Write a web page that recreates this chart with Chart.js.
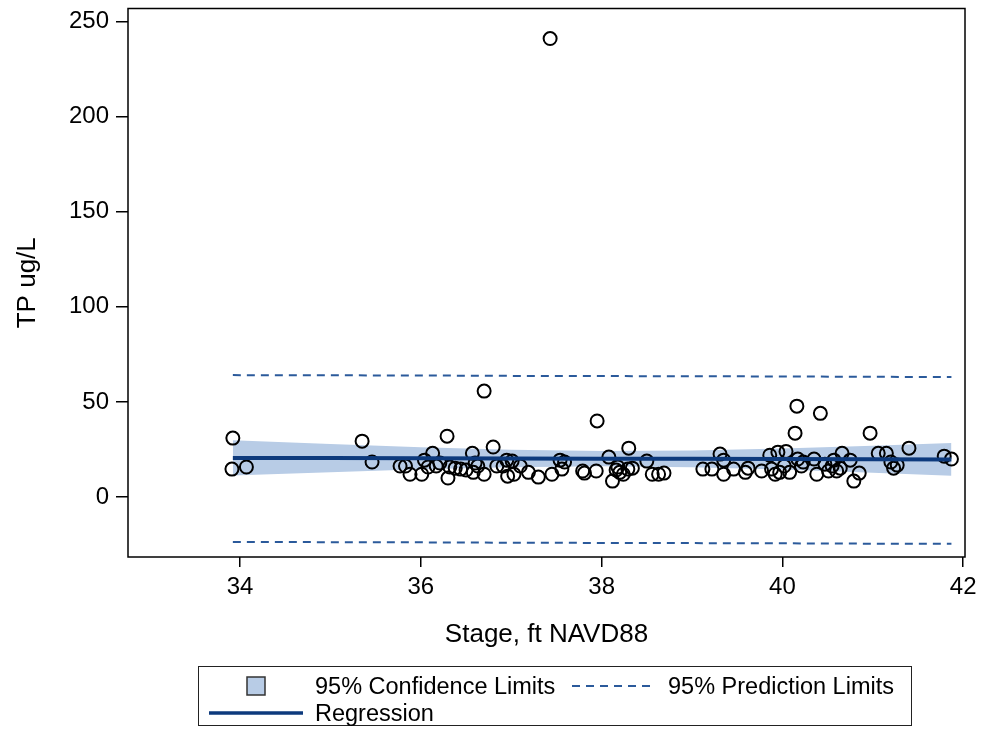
<!DOCTYPE html>
<html><head><meta charset="utf-8">
<script src="https://cdn.jsdelivr.net/npm/chart.js@4/dist/chart.umd.min.js"></script>
<style>
html,body{margin:0;padding:0;background:#fff;}
#wrap{position:relative;width:985px;height:730px;}
canvas{position:absolute;left:0;top:0;}
#legend{position:absolute;left:198px;top:666px;width:712px;height:58px;border:1.5px solid #222;font-family:"Liberation Sans",Arial,sans-serif;font-size:23.5px;color:#000;}
.item{position:absolute;white-space:nowrap;line-height:26px;}
svg{position:absolute;overflow:visible;}
</style></head><body>
<div id="wrap"><canvas id="c" width="985" height="730"></canvas>
<div id="legend">
  <svg style="left:0;top:0" width="712" height="58">
    <rect x="48" y="10" width="18" height="18" fill="#b8cce6" stroke="#333" stroke-width="1.5"/>
    <line x1="373" y1="19" x2="454" y2="19" stroke="#2b5a9b" stroke-width="2" stroke-dasharray="8,6"/>
    <line x1="10" y1="46" x2="104" y2="46" stroke="#0d3a7d" stroke-width="3.5"/>
  </svg>
  <div class="item" style="left:116px;top:6px">95% Confidence Limits</div>
  <div class="item" style="left:469px;top:6px">95% Prediction Limits</div>
  <div class="item" style="left:116px;top:33px">Regression</div>
</div></div>
<script>
// Observations: stage (ft NAVD88) and TP (ug/L)
const stage = [33.92,33.91,34.07,35.35,35.46,35.77,35.83,35.88,36.01,36.04,36.08,36.13,36.17,36.21,36.29,36.30,36.32,36.38,36.44,36.50,36.57,36.58,36.60,36.63,36.70,36.70,36.80,36.84,36.91,36.95,36.96,37.01,37.03,37.10,37.19,37.30,37.43,37.45,37.54,37.56,37.59,37.79,37.81,37.94,37.95,38.08,38.12,38.16,38.18,38.20,38.24,38.29,38.30,38.34,38.50,38.56,38.63,38.69,39.12,39.22,39.31,39.35,39.35,39.46,39.59,39.62,39.77,39.86,39.88,39.92,39.95,39.97,40.02,40.04,40.08,40.14,40.16,40.17,40.21,40.23,40.35,40.38,40.42,40.47,40.51,40.55,40.57,40.60,40.64,40.66,40.75,40.79,40.85,40.97,41.06,41.15,41.20,41.23,41.27,41.40,41.79,41.87];
const tp = [31,14.7,15.8,29.4,18.4,16.3,16.3,12,12,19.4,15.8,23,16.3,17.9,32,10,15.8,15.2,14.7,14.2,23,13,17.9,16.3,12,55.7,26.3,16.3,16.3,19.4,11,18.9,12,16.3,13,10.5,241,12,19.4,14.7,18.4,13.7,12.6,13.7,40,21,8.4,14.2,15.8,13,12,14.7,25.7,15.2,18.9,12,12,12.6,14.7,14.7,22.6,19.4,12,14.7,13,15.2,13.7,22,14.7,12,23.6,13,16.3,24,13,33.6,47.8,20,16.3,18.4,20,12,44,17.3,13.7,16.3,19.4,13.7,15.2,23,19.4,8.4,12.6,33.6,23,23,18.4,15.2,16.8,25.7,21.5,20];

// Fit curves
const fitX    = [33.92, 35, 36, 37, 38, 39, 40, 41, 41.87];
const fitY    = [20.6, 20.5, 20.4, 20.3, 20.2, 20.1, 20.0, 19.9, 19.8];
const clUpper = [29.9, 27.9, 26.2, 24.9, 24.2, 24.5, 25.5, 27.0, 28.4];
const clLower = [11.3, 13.1, 14.6, 15.7, 16.2, 15.7, 14.5, 12.8, 11.2];
const plUpper = [64.1, 64.0, 63.9, 63.7, 63.6, 63.5, 63.4, 63.2, 63.1];
const plLower = [-23.6, -23.7, -23.8, -24.0, -24.1, -24.2, -24.3, -24.5, -24.6];

const xTicks = [34, 36, 38, 40, 42];
const yTicks = [0, 50, 100, 150, 200, 250];

const pts = (xs, ys) => xs.map((x, i) => ({x: x, y: ys[i]}));
const FONT = '"Liberation Sans", Arial, sans-serif';

const frame = {
  id: 'frame',
  afterDraw(chart) {
    const a = chart.chartArea, ctx = chart.ctx;
    ctx.save();
    ctx.strokeStyle = '#000';
    ctx.lineWidth = 1.5;
    ctx.strokeRect(a.left, a.top, a.right - a.left, a.bottom - a.top);
    ctx.restore();
  }
};

new Chart(document.getElementById('c'), {
  type: 'scatter',
  data: {
    datasets: [
      {label: 'CL lower', type: 'line', data: pts(fitX, clLower), borderWidth: 0, pointRadius: 0, fill: false, order: 4, borderColor: 'rgba(0,0,0,0)'},
      {label: '95% Confidence Limits', type: 'line', data: pts(fitX, clUpper), borderWidth: 0, pointRadius: 0, fill: '-1', backgroundColor: '#b8cce6', borderColor: 'rgba(0,0,0,0)', order: 3},
      {label: '95% Prediction Limits', type: 'line', data: pts(fitX, plUpper), borderColor: '#2b5a9b', borderWidth: 2, borderDash: [8, 6], pointRadius: 0, fill: false, order: 2},
      {label: 'PL lower', type: 'line', data: pts(fitX, plLower), borderColor: '#2b5a9b', borderWidth: 2, borderDash: [8, 6], pointRadius: 0, fill: false, order: 2},
      {label: 'Observations', data: pts(stage, tp), pointStyle: 'circle', pointRadius: 6.5, borderColor: '#000', borderWidth: 2, backgroundColor: 'rgba(0,0,0,0)', order: 1},
      {label: 'Regression', type: 'line', data: pts(fitX, fitY), borderColor: '#0d3a7d', borderWidth: 4, pointRadius: 0, fill: false, order: 0}
    ]
  },
  options: {
    responsive: false,
    animation: false,
    events: [],
    layout: {padding: {left: 0, top: 8, right: 20, bottom: 75}},
    plugins: {legend: {display: false}, tooltip: {enabled: false}},
    scales: {
      x: {
        type: 'linear', min: 32.76, max: 42.02,
        afterBuildTicks: s => { s.ticks = xTicks.map(v => ({value: v})); },
        afterFit: s => { s.paddingLeft = 0; s.paddingRight = 0; s.height = 98; },
        grid: {display: true, drawOnChartArea: false, drawTicks: true, tickLength: 10, color: '#000', lineWidth: 1.5},
        border: {display: false},
        ticks: {color: '#000', font: {family: FONT, size: 24}, padding: 6, maxRotation: 0},
        title: {display: true, text: 'Stage, ft NAVD88', color: '#000', font: {family: FONT, size: 26}, padding: {top: 0, bottom: 5}}
      },
      y: {
        type: 'linear', min: -31.5, max: 256.8,
        afterBuildTicks: s => { s.ticks = yTicks.map(v => ({value: v})); },
        afterFit: s => { s.paddingTop = 0; s.paddingBottom = 0; s.width = 128; },
        grid: {display: true, drawOnChartArea: false, drawTicks: true, tickLength: 12, color: '#000', lineWidth: 1.5},
        border: {display: false},
        ticks: {color: '#000', font: {family: FONT, size: 24}, padding: 7},
        title: {display: true, text: 'TP ug/L', color: '#000', font: {family: FONT, size: 26}, padding: {top: 12, bottom: 0}}
      }
    }
  },
  plugins: [frame]
});
</script>
</body></html>
